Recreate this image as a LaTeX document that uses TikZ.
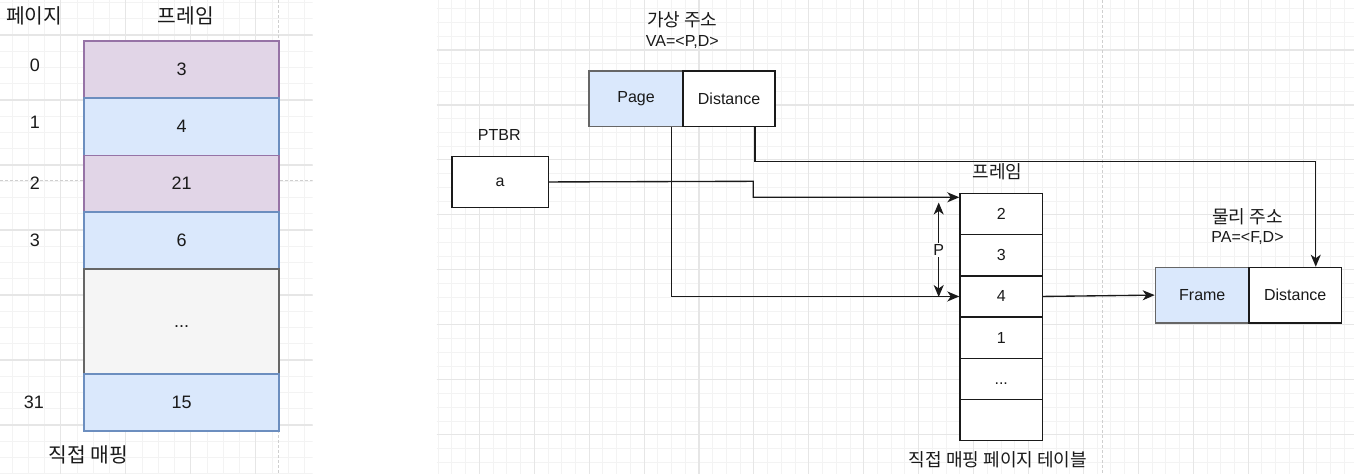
\documentclass[tikz,border=0pt]{standalone}
\usepackage{fontspec}
\setmainfont{Liberation Sans}
\newfontfamily\kr[Scale=1.13]{Noto Sans CJK KR}
\usetikzlibrary{arrows.meta,calc}
\definecolor{purfill}{HTML}{E1D5E7}
\definecolor{purline}{HTML}{9673A6}
\definecolor{bluefill}{HTML}{DAE8FC}
\definecolor{blueline}{HTML}{6C8EBF}
\definecolor{grayfill}{HTML}{F5F5F5}
\definecolor{grayline}{HTML}{666666}
\definecolor{gridminor}{HTML}{F3F3F3}
\definecolor{gridmajor}{HTML}{E6E6E6}
\definecolor{pageline}{HTML}{CFCFCF}
\definecolor{ink}{HTML}{1A1A1A}
\newcommand\fsL{\fontsize{18}{22}\selectfont}
\newcommand\fsR{\fontsize{16}{19}\selectfont}
\begin{document}
\begin{tikzpicture}[x=1pt,y=-1pt,
  cellL/.style={draw, line width=1.5pt, inner sep=0pt, anchor=north west, font=\fsL, text=ink},
  purp/.style={fill=purfill, draw=purline},
  blu/.style={fill=bluefill, draw=blueline},
  gry/.style={fill=grayfill, draw=grayline},
  cellR/.style={draw=ink, fill=white, line width=1.5pt, inner sep=0pt, anchor=north west, font=\fsR, text=ink},
  lblL/.style={inner sep=0pt, font=\fsL, text=ink},
  lblR/.style={inner sep=0pt, font=\fsR, text=ink},
  conn/.style={draw=ink, line width=1.35pt, -{Stealth[length=12pt,width=10pt,inset=3.5pt]}},
  dbl/.style={draw=ink, line width=1.35pt, {Stealth[length=12pt,width=10pt,inset=3.5pt]}-{Stealth[length=12pt,width=10pt,inset=3.5pt]}},
  minorline/.style={draw=gridminor, line width=0.9pt},
  majorline/.style={draw=gridmajor, line width=1.1pt},
  pagebreak/.style={draw=pageline, line width=0.9pt, dash pattern=on 2.5pt off 2.5pt}
]
\useasboundingbox (0,0) rectangle (1354,474);
\fill[white] (0,0) rectangle (1354,474);

% ---------- left grid ----------
\begin{scope}
\clip (0,0) rectangle (312.7,474);
\foreach \k in {0,...,20} {\draw[minorline] ({-4.3+16.25*\k},0) -- ++(0,474);}
\foreach \k in {0,...,30} {\draw[minorline] (0,{2.5+16.25*\k}) -- ++(312.7,0);}
\foreach \k in {0,4,...,20} {\draw[majorline] ({-4.3+16.25*\k},0) -- ++(0,474);}
\foreach \k in {2,6,...,30} {\draw[majorline] (0,{2.5+16.25*\k}) -- ++(312.7,0);}
\draw[pagebreak] (278.3,0) -- (278.3,474);
\draw[pagebreak] (0,180) -- (312.7,180);
\end{scope}

% ---------- right grid ----------
\begin{scope}
\clip (436.7,0) rectangle (1354,474);
\foreach \k in {-3,...,64} {\draw[minorline] ({479.3+13.73*\k},0) -- ++(0,474);}
\foreach \k in {-4,...,31} {\draw[minorline] (436.7,{50+13.74*\k}) -- (1354,{50+13.74*\k});}
\foreach \k in {0,4,...,64} {\draw[majorline] ({479.3+13.73*\k},0) -- ++(0,474);}
\foreach \k in {-4,0,...,32} {\draw[majorline] (436.7,{50+13.74*\k}) -- (1354,{50+13.74*\k});}
\draw[pagebreak] (1102.7,0) -- (1102.7,474);
\end{scope}

% ---------- left: direct mapping ----------
\node[lblL] (hpage) at (34.2,16) {\kr 페이지};
\node[lblL] (hframe) at (185.8,16) {\kr 프레임};

\node[cellL, purp, minimum width=195pt, minimum height=56.7pt] (L0) at (83.3,40.3) {3};
\node[cellL, blu,  minimum width=195pt, minimum height=57.7pt] (L1) at (83.3,97) {4};
\node[cellL, purp, minimum width=195pt, minimum height=56.3pt] (L2) at (83.3,154.7) {21};
\node[cellL, blu,  minimum width=195pt, minimum height=57.3pt] (L3) at (83.3,211) {6};
\node[cellL, gry,  minimum width=195pt, minimum height=105pt] (Ld) at (83.3,268.3) {\vphantom{0}...};
\node[cellL, blu,  minimum width=195pt, minimum height=56.7pt] (L31) at (83.3,373.3) {15};

\node[lblL] (n0) at (35,65) {0};
\node[lblL] (n1) at (35,122) {1};
\node[lblL] (n2) at (35,183) {2};
\node[lblL] (n3) at (35,240) {3};
\node[lblL] (n31) at (34,402) {31};
\node[lblL] (capL) at (88.3,455) {\kr 직접 매핑};

% ---------- right: page table ----------
\node[lblR] (vak) at (682.3,20) {\kr 가상 주소};
\node[lblR] (vat) at (682.3,42) {VA=<P,D>};
\node[cellR, fill=bluefill, draw=grayline, minimum width=94pt, minimum height=55.7pt] (page) at (588.3,70) {Page};
\node[cellR, minimum width=92pt, minimum height=55.7pt] (dist) at (682.3,70) {Distance};

\node[lblR] (ptbrl) at (499.3,135) {PTBR};
\node[cellR, minimum width=96.7pt, minimum height=51pt] (ptbr) at (451,155.7) {a};

\node[lblR] (tframe) at (997.5,171.5) {\kr 프레임};
\node[cellR, minimum width=82.4pt, minimum height=41.2pt] (t2) at (959.3,192.7) {2};
\node[cellR, minimum width=82.4pt, minimum height=41.2pt] (t3) at (959.3,233.9) {3};
\node[cellR, minimum width=82.4pt, minimum height=41.2pt] (t4) at (959.3,275.1) {4};
\node[cellR, minimum width=82.4pt, minimum height=41.2pt] (t1) at (959.3,316.3) {1};
\node[cellR, minimum width=82.4pt, minimum height=41.2pt] (tdots) at (959.3,357.5) {\vphantom{0}...};
\node[cellR, minimum width=82.4pt, minimum height=41.2pt] (tempty) at (959.3,398.7) {};
\node[lblR] (capR) at (998,460) {\kr 직접 매핑 페이지 테이블};

\node[lblR] (pak) at (1247.5,216.7) {\kr 물리 주소};
\node[lblR] (pat) at (1247.5,238) {PA=<F,D>};
\node[cellR, fill=bluefill, draw=grayline, minimum width=93.6pt, minimum height=55.3pt] (frame) at (1154.7,266.7) {Frame};
\node[cellR, minimum width=92.4pt, minimum height=55.3pt] (pdist) at (1248.3,266.7) {Distance};

% ---------- connectors ----------
\draw[conn] (ptbr.east) -- (753.3,181.3) |- ([yshift=-4.6pt]t2.north west);
\draw[conn] ([xshift=35.7pt]page.south) |- (t4.west);
\draw[conn] ([xshift=26pt]dist.south) -- ++(0,34.3) -| ([xshift=20.5pt]pdist.north);
\draw[conn] (t4.east) -- (frame.west);

\coordinate (pTop) at (938.7,202.5);
\coordinate (pBot) at (938.7,297);
\draw[dbl] (pTop) -- node[fill=white, inner sep=1.5pt, font=\fsR, text=ink] (plbl) {P} (pBot);
\end{tikzpicture}
\end{document}
